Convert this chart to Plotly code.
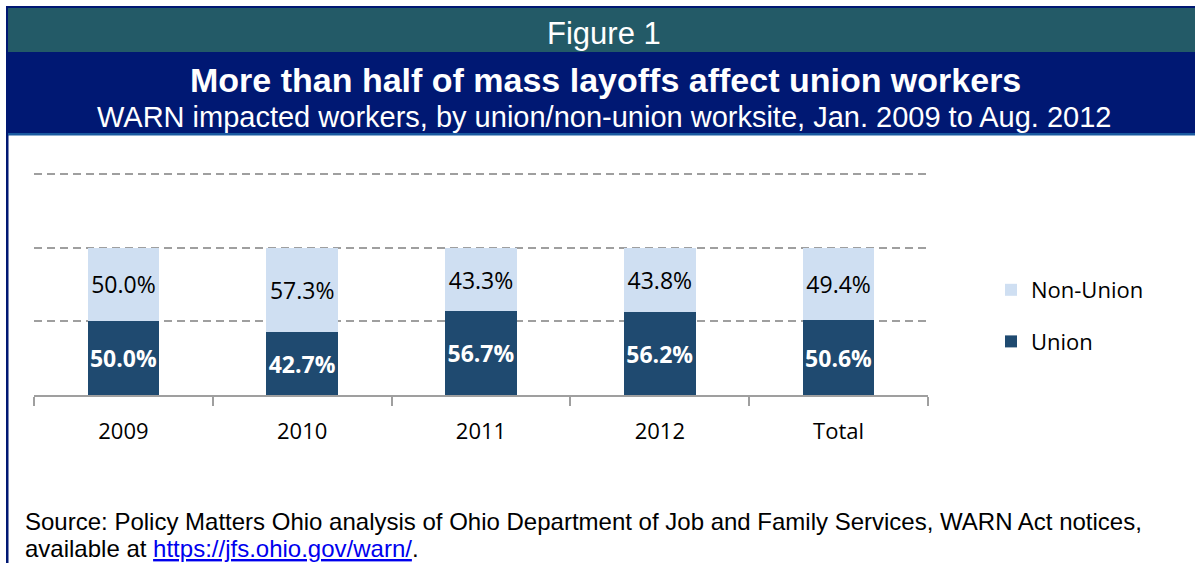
import plotly.graph_objects as go

categories = ["2009", "2010", "2011", "2012", "Total"]
union = [50.0, 42.7, 56.7, 56.2, 50.6]
non_union = [50.0, 57.3, 43.3, 43.8, 49.4]

W, H = 1195, 563
YMAX = 152
L, R, B = 34, 1195 - 928, 563 - 395
T = round(395 - YMAX * (395 - 174) / 150)
PW, PH = W - L - R, H - T - B


def px_x(px):
    return (px - L) / PW


def px_y(py):
    return (H - B - py) / PH


UNION_C = "#1f4a70"
NON_C = "#cfdff2"
NAVY = "#001873"
TEAL = "#235a67"
STRIP = "#1a5aa0"
GRID = "#9f9f9f"
TXT_FONT = "Open Sans"
HEAD_FONT = "Liberation Sans, Arial"

fig = go.Figure()
fig.add_trace(go.Bar(
    x=categories, y=union, name="Union", marker=dict(color=UNION_C, line=dict(width=0)),
    texttemplate="%{y:.1f}%", textposition="inside", insidetextanchor="middle", textangle=0,
    textfont=dict(family=TXT_FONT, size=23, color="white", weight="bold"),
    constraintext="none", legendgroup="u", legendrank=2, hoverinfo="skip",
))
fig.add_trace(go.Bar(
    x=categories, y=non_union, name="Non-Union", marker=dict(color=NON_C, line=dict(width=0)),
    texttemplate="%{y:.1f}%", textposition="inside", insidetextanchor="middle", textangle=0,
    textfont=dict(family=TXT_FONT, size=23, color="black"),
    constraintext="none", legendgroup="n", legendrank=1, hoverinfo="skip",
))

shapes = [
    dict(type="rect", xref="paper", yref="paper", x0=px_x(6), x1=px_x(1195), y0=px_y(6), y1=px_y(135),
         fillcolor=NAVY, line=dict(width=0), layer="below"),
    dict(type="rect", xref="paper", yref="paper", x0=px_x(8), x1=px_x(1195), y0=px_y(8), y1=px_y(52),
         fillcolor=TEAL, line=dict(width=0), layer="below"),
    dict(type="rect", xref="paper", yref="paper", x0=px_x(8), x1=px_x(1195), y0=px_y(133), y1=px_y(135.5),
         fillcolor=STRIP, line=dict(width=0), layer="below"),
    dict(type="rect", xref="paper", yref="paper", x0=px_x(6), x1=px_x(8.5), y0=px_y(135), y1=px_y(563),
         fillcolor=NAVY, line=dict(width=0), layer="below"),
]

annotations = [
    dict(text="Figure 1", xref="paper", yref="paper", x=px_x(604), y=px_y(33), xanchor="center",
         yanchor="middle", showarrow=False, font=dict(family=HEAD_FONT, size=31, color="white")),
    dict(text="<b>More than half of mass layoffs affect union workers</b>", xref="paper", yref="paper",
         x=px_x(605), y=px_y(80), xanchor="center", yanchor="middle", showarrow=False,
         font=dict(family=HEAD_FONT, size=34, color="white")),
    dict(text="WARN impacted workers, by union/non-union worksite, Jan. 2009 to Aug. 2012", xref="paper",
         yref="paper", x=px_x(604), y=px_y(117), xanchor="center", yanchor="middle", showarrow=False,
         font=dict(family=HEAD_FONT, size=29, color="white")),
    dict(text="Source: Policy Matters Ohio analysis of Ohio Department of Job and Family Services, WARN Act notices,",
         xref="paper", yref="paper", x=px_x(23), y=px_y(521), xanchor="left", yanchor="middle", align="left",
         showarrow=False, font=dict(family=HEAD_FONT, size=24, color="black")),
    dict(text="available at <span style='color:#0000ee;text-decoration:underline'>https://jfs.ohio.gov/warn/</span>.",
         xref="paper", yref="paper", x=px_x(23), y=px_y(548), xanchor="left", yanchor="middle", align="left",
         showarrow=False, font=dict(family=HEAD_FONT, size=24, color="black")),
]

fig.update_layout(
    width=W, height=H, margin=dict(l=L, r=R, t=T, b=B, autoexpand=False),
    paper_bgcolor="white", plot_bgcolor="white",
    barmode="stack", bargap=0.6,
    shapes=shapes, annotations=annotations,
    showlegend=True,
    legend=dict(x=px_x(991), y=px_y(316), xanchor="left", yanchor="middle",
                traceorder="grouped", tracegroupgap=20,
                font=dict(family=TXT_FONT, size=22, color="black"), bgcolor="rgba(0,0,0,0)"),
    xaxis=dict(type="category", showline=True, linecolor=GRID, linewidth=1.5,
               ticks="outside", tickson="boundaries", ticklen=9, tickcolor=GRID, tickwidth=1.5,
               tickfont=dict(family=TXT_FONT, size=22, color="black"), ticklabelstandoff=16,
               showgrid=False, fixedrange=True),
    yaxis=dict(range=[0, YMAX], tickvals=[50, 100, 150], showticklabels=False, showgrid=True,
               gridcolor=GRID, gridwidth=1.5, griddash="8px,5px", zeroline=False, showline=False,
               fixedrange=True),
)

fig.write_html("out.html")
